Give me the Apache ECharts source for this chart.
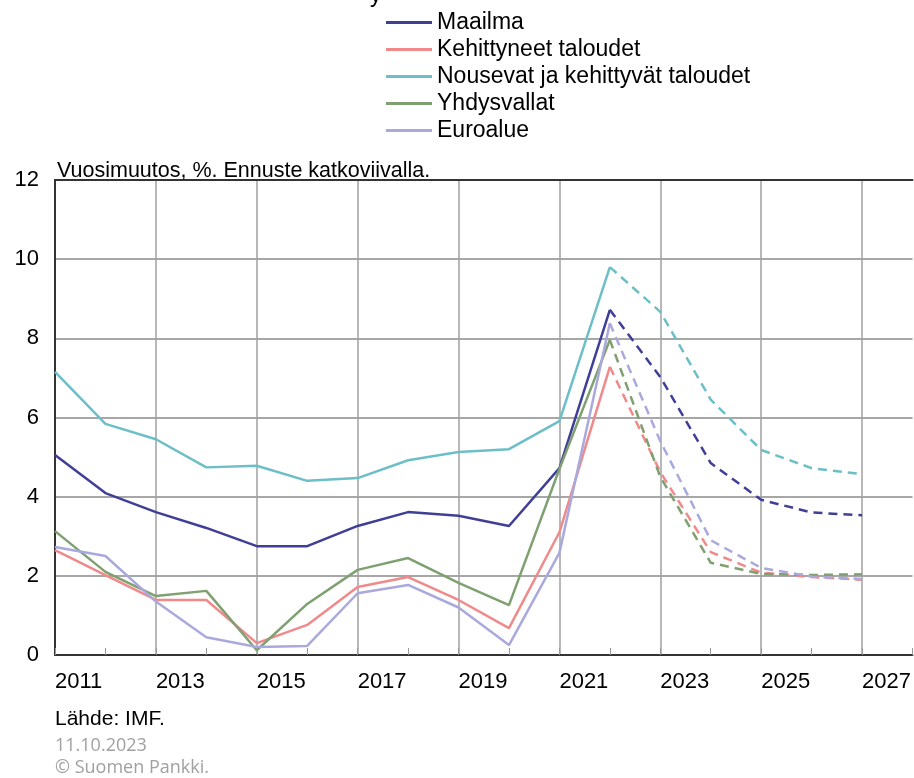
<!DOCTYPE html>
<html>
<head>
<meta charset="utf-8">
<script src="https://cdn.jsdelivr.net/npm/echarts@6/dist/echarts.min.js"></script>
<style>
html,body{margin:0;padding:0;background:#fff;}
#chart{width:914px;height:778px;}
</style>
</head>
<body>
<div id="chart"></div>
<script>
// Years 2011–2027; values through 2022 are actual, 2022 onward forecast (dashed)
var years = [2011,2012,2013,2014,2015,2016,2017,2018,2019,2020,2021,2022,2023,2024,2025,2026,2027];
var lastActualYear = 2022;
var seriesNames = ['Maailma','Kehittyneet taloudet','Nousevat ja kehittyvät taloudet','Yhdysvallat','Euroalue'];
var maailma     = [5.05,4.09,3.61,3.21,2.75,2.75,3.26,3.61,3.52,3.26,4.72,8.72,7.02,4.85,3.92,3.60,3.53];
var kehittyneet = [2.65,2.02,1.39,1.39,0.30,0.76,1.72,1.97,1.39,0.68,3.10,7.28,4.62,2.60,2.08,1.97,1.90];
var nousevat    = [7.15,5.84,5.45,4.74,4.78,4.40,4.47,4.92,5.13,5.20,5.91,9.80,8.67,6.45,5.18,4.72,4.57];
var yhdysvallat = [3.13,2.10,1.49,1.62,0.12,1.29,2.15,2.45,1.82,1.26,4.70,7.96,4.50,2.33,2.05,2.02,2.04];
var euroalue    = [2.73,2.50,1.35,0.45,0.20,0.23,1.56,1.77,1.20,0.25,2.58,8.38,5.40,2.90,2.20,1.98,1.92];
var colors = ['#3f3f98','#f08a8a','#6cbfc7','#7fa070','#a9a9dd'];
var yTicks = [0,2,4,6,8,10,12];

var allData = [maailma,kehittyneet,nousevat,yhdysvallat,euroalue];
var series = [];
allData.forEach(function(vals, i){
  var solid = [], dashed = [];
  years.forEach(function(y, j){
    if (y <= lastActualYear) solid.push([y, vals[j]]);
    if (y >= lastActualYear) dashed.push([y, vals[j]]);
  });
  series.push({name: seriesNames[i], type:'line', data: solid, color: colors[i], symbol:'none',
    lineStyle:{width:2.5, color: colors[i]}, z: 3});
  series.push({name: seriesNames[i] + ' (ennuste)', type:'line', data: dashed, color: colors[i], symbol:'none',
    lineStyle:{width:2.5, color: colors[i], type:[9,6]}, z: 3});
});

var font = '"Liberation Sans", Arial, sans-serif';
var chart = echarts.init(document.getElementById('chart'), null, {renderer:'canvas'});
chart.setOption({
  animation: false,
  backgroundColor: '#fff',
  grid: {left:55, top:180, height:475, width:859, show:false},
  legend: {
    data: seriesNames, orient:'vertical', left:381, top:6, icon:'rect', itemWidth:46, itemHeight:3, itemGap:4,
    selectedMode:false,
    textStyle:{fontFamily:font, fontSize:23, lineHeight:23, color:'#000'}
  },
  xAxis: [{
    type:'value', min:2011, max:2028, interval:2,
    axisLine:{show:true, lineStyle:{color:'#333', width:2}},
    axisTick:{show:false},
    splitLine:{show:true, showMaxLine:false, lineStyle:{color:'#a0a0a0', width:1.5}},
    axisLabel:{fontFamily:font, fontSize:22, color:'#000', align:'left', margin:16, showMaxLabel:false,
      formatter:function(v){ return v <= 2027 ? String(v) : ''; }}
  },{
    type:'value', min:2011, max:2028, interval:1, position:'bottom',
    axisLine:{show:false},
    axisTick:{show:true, inside:true, length:7, lineStyle:{color:'#999'}},
    splitLine:{show:false},
    axisLabel:{show:false}
  },{
    type:'value', min:2011, max:2028, position:'top',
    axisLine:{show:true, lineStyle:{color:'#333', width:2}},
    axisTick:{show:false}, splitLine:{show:false}, axisLabel:{show:false}
  }],
  yAxis: {
    type:'value', min:yTicks[0], max:yTicks[yTicks.length-1], interval:2,
    axisLine:{show:true, lineStyle:{color:'#333', width:2}},
    axisTick:{show:false},
    splitLine:{show:true, showMinLine:false, showMaxLine:false, lineStyle:{color:'#8a8a8a', width:1.5}},
    axisLabel:{fontFamily:font, fontSize:22, color:'#000', margin:16}
  },
  graphic: [
    {type:'text', left:370, top:-16, style:{text:'y', font:'23px ' + font, fill:'#000'}},
    {type:'text', left:57, top:160, style:{text:'Vuosimuutos, %. Ennuste katkoviivalla.', font:'21.5px ' + font, fill:'#000'}},
    {type:'text', left:55, top:709, style:{text:'Lähde: IMF.', font:'21px ' + font, fill:'#000'}},
    {type:'text', left:55, top:737, style:{text:'11.10.2023', font:'18px "Open Sans", sans-serif', fill:'#a0a0a0'}},
    {type:'text', left:55, top:759, style:{text:'© Suomen Pankki.', font:'18px "Open Sans", sans-serif', fill:'#a0a0a0'}}
  ],
  series: series
});
</script>
</body>
</html>
